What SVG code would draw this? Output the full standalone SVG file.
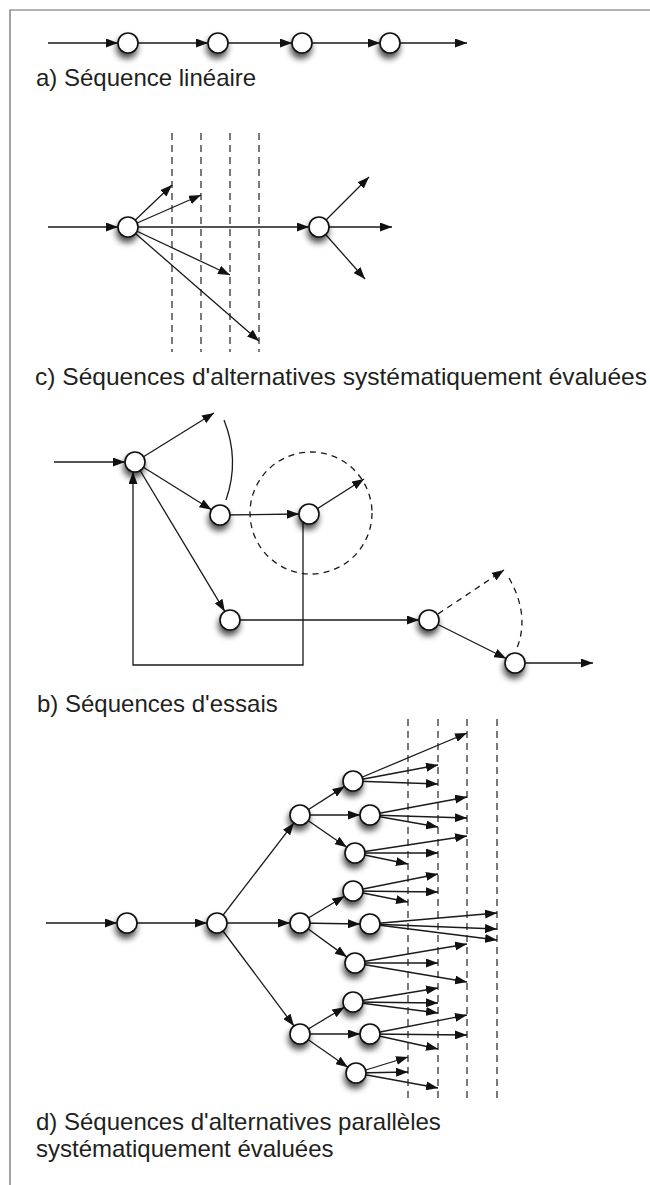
<svg xmlns="http://www.w3.org/2000/svg" width="650" height="1185" viewBox="0 0 650 1185">
<style>
.ln{fill:none;stroke:#1a1a1a;stroke-width:1.3}
.ar{fill:none;stroke:#1a1a1a;stroke-width:1.3;marker-end:url(#ah)}
.da{fill:none;stroke:#1a1a1a;stroke-width:1.3;stroke-dasharray:6 5}
.dv{fill:none;stroke:#222;stroke-width:1.2;stroke-dasharray:7 5}
.node{fill:#fff;stroke:#111;stroke-width:1.6;filter:url(#sh)}
.lbl{font-family:"Liberation Sans",Arial,sans-serif;font-size:24px;fill:#231f20}
</style>
<defs>
<marker id="ah" markerWidth="12" markerHeight="9" refX="12" refY="4.5" orient="auto" markerUnits="userSpaceOnUse"><path d="M0,0 L12,4.5 L0,9 z" fill="#111"/></marker>
<filter id="sh" x="-60%" y="-60%" width="220%" height="240%">
<feGaussianBlur in="SourceAlpha" stdDeviation="3" result="b"/>
<feOffset in="b" dx="-1.5" dy="4.5" result="o"/>
<feComponentTransfer in="o" result="s"><feFuncA type="linear" slope="0.7"/></feComponentTransfer>
<feMerge><feMergeNode in="s"/><feMergeNode in="SourceGraphic"/></feMerge>
</filter>
</defs>
<g id="frame"><path d="M10,1185 V10 H650" fill="none" stroke="#666" stroke-width="1.2"/></g>

<g id="connectors">
<path class="ar" d="M48,43 H118"/>
<path class="ar" d="M128,43 H208"/>
<path class="ar" d="M218,43 H292"/>
<path class="ar" d="M302,43 H380"/>
<path class="ar" d="M390,43 H467"/>
<path class="dv" d="M172,133 V352 M201,133 V352 M230,133 V352 M259,133 V352"/>
<path class="ar" d="M48,227 H118"/>
<path class="ar" d="M128,227 H309"/>
<path class="ar" d="M128,227 L172,185"/>
<path class="ar" d="M128,227 L201,195"/>
<path class="ar" d="M128,227 L230,275"/>
<path class="ar" d="M128,227 L259,341"/>
<path class="ar" d="M319,227 L369,177"/>
<path class="ar" d="M319,227 H392"/>
<path class="ar" d="M319,227 L365,279"/>
<circle class="da" cx="311" cy="513" r="61"/>
<path class="ar" d="M54,462 H125"/>
<path class="ar" d="M135,462 L214,413"/>
<path class="ar" d="M135,462 L211.5,509.7"/>
<path class="ar" d="M135,462 L224.8,611.4"/>
<path class="ar" d="M220,515 L299,514"/>
<path class="ar" d="M309,514 L364,479"/>
<path class="ar" d="M230,620 H419"/>
<path class="da" d="M429,620 L504,570" marker-end="url(#ah)"/>
<path class="ar" d="M429,620 L506.1,658.5"/>
<path class="ar" d="M515,663 H593"/>
<path class="ar" d="M303,514 V665 H133 V472"/>
<path class="ln" d="M224,420 Q240,460 226,500"/>
<path class="da" d="M509,578 Q530,615 517,648"/>
<path class="dv" d="M408,719 V1098 M438,719 V1098 M467,719 V1098 M497,719 V1098"/>
<path class="ar" d="M46,923 H117"/>
<path class="ar" d="M127,923 H207"/>
<path class="ar" d="M217,923 H290"/>
<path class="ar" d="M217,923 L293.9,822.9"/>
<path class="ar" d="M217,923 L294,1026"/>
<path class="ar" d="M300,815 L344.6,786.4"/>
<path class="ar" d="M300,815 H360"/>
<path class="ar" d="M300,815 L346.8,847.3"/>
<path class="ar" d="M300,923 L344.4,896.2"/>
<path class="ar" d="M300,923 L360,924"/>
<path class="ar" d="M300,923 L346.9,957.1"/>
<path class="ar" d="M300,1034 L344.4,1007.2"/>
<path class="ar" d="M300,1034 H360"/>
<path class="ar" d="M300,1034 L347.8,1067.3"/>
<path class="ar" d="M353,781 L467,733"/>
<path class="ar" d="M353,781 L438,765"/>
<path class="ar" d="M353,781 L438,784"/>
<path class="ar" d="M370,815 L467,797"/>
<path class="ar" d="M370,815 L467,818"/>
<path class="ar" d="M370,815 L438,827"/>
<path class="ar" d="M355,853 L467,836"/>
<path class="ar" d="M355,853 L438,853"/>
<path class="ar" d="M355,853 L408,864"/>
<path class="ar" d="M353,891 L438,874"/>
<path class="ar" d="M353,891 L438,892"/>
<path class="ar" d="M353,891 L408,902"/>
<path class="ar" d="M370,924 L497,913"/>
<path class="ar" d="M370,924 L497,929"/>
<path class="ar" d="M370,924 L497,940"/>
<path class="ar" d="M355,963 L467,944"/>
<path class="ar" d="M355,963 L438,963"/>
<path class="ar" d="M355,963 L467,982"/>
<path class="ar" d="M353,1002 L438,988"/>
<path class="ar" d="M353,1002 L438,1003"/>
<path class="ar" d="M353,1002 L438,1013"/>
<path class="ar" d="M370,1034 L467,1015"/>
<path class="ar" d="M370,1034 L467,1035"/>
<path class="ar" d="M370,1034 L438,1049"/>
<path class="ar" d="M356,1073 L408,1057"/>
<path class="ar" d="M356,1073 L408,1072"/>
<path class="ar" d="M356,1073 L438,1088"/>
</g>

<g id="a1"><circle class="node" cx="128" cy="43" r="10"/></g>
<g id="a2"><circle class="node" cx="218" cy="43" r="10"/></g>
<g id="a3"><circle class="node" cx="302" cy="43" r="10"/></g>
<g id="a4"><circle class="node" cx="390" cy="43" r="10"/></g>

<g id="c1"><circle class="node" cx="128" cy="227" r="10"/></g>
<g id="c2"><circle class="node" cx="319" cy="227" r="10"/></g>

<g id="b1"><circle class="node" cx="135" cy="462" r="10"/></g>
<g id="b2"><circle class="node" cx="220" cy="515" r="10"/></g>
<g id="b3"><circle class="node" cx="309" cy="514" r="10"/></g>
<g id="b4"><circle class="node" cx="230" cy="620" r="10"/></g>
<g id="b5"><circle class="node" cx="429" cy="620" r="10"/></g>
<g id="b6"><circle class="node" cx="515" cy="663" r="10"/></g>

<g id="d1"><circle class="node" cx="127" cy="923" r="10"/></g>
<g id="d2"><circle class="node" cx="217" cy="923" r="10"/></g>
<g id="dT"><circle class="node" cx="300" cy="815" r="10"/></g>
<g id="dM"><circle class="node" cx="300" cy="923" r="10"/></g>
<g id="dB"><circle class="node" cx="300" cy="1034" r="10"/></g>
<g id="dA"><circle class="node" cx="353" cy="781" r="10"/></g>
<g id="dBn"><circle class="node" cx="370" cy="815" r="10"/></g>
<g id="dC"><circle class="node" cx="355" cy="853" r="10"/></g>
<g id="dD"><circle class="node" cx="353" cy="891" r="10"/></g>
<g id="dE"><circle class="node" cx="370" cy="924" r="10"/></g>
<g id="dF"><circle class="node" cx="355" cy="963" r="10"/></g>
<g id="dG"><circle class="node" cx="353" cy="1002" r="10"/></g>
<g id="dH"><circle class="node" cx="370" cy="1034" r="10"/></g>
<g id="dI"><circle class="node" cx="356" cy="1073" r="10"/></g>

<g id="labels">
<text class="lbl" x="36" y="86">a) Séquence linéaire</text>
<text class="lbl" x="35" y="385" textLength="612" lengthAdjust="spacingAndGlyphs">c) Séquences d'alternatives systématiquement évaluées</text>
<text class="lbl" x="37" y="712">b) Séquences d'essais</text>
<text class="lbl" x="36" y="1130">d) Séquences d'alternatives parallèles</text>
<text class="lbl" x="36" y="1157">systématiquement évaluées</text>
</g>
</svg>
